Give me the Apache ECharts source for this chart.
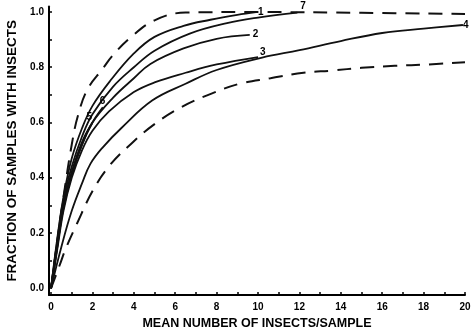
<!DOCTYPE html>
<html>
<head>
<meta charset="utf-8">
<script src="https://cdn.jsdelivr.net/npm/echarts@6/dist/echarts.min.js"></script>
<style>html,body{margin:0;padding:0;background:#fff}#c{width:472px;height:333px}</style>
</head>
<body>
<div id="c"></div>
<script>
// x = mean number of insects per sample, y = fraction of samples with insects
const upperDashed = [[0,0],[0.3,0.17],[0.6,0.33],[1.0,0.52],[1.3,0.625],[1.76,0.72],[2.5,0.795],[2.95,0.84],[3.8,0.905],[5.0,0.97],[6.5,0.998],[10,1.0],[15,0.997],[20,0.993]];
const lowerDashed = [[0,0],[0.4,0.08],[0.72,0.145],[1.26,0.235],[2.03,0.355],[2.85,0.446],[3.9,0.525],[5.0,0.594],[6.3,0.656],[7.6,0.70],[9.1,0.74],[10.6,0.76],[12.2,0.78],[13.6,0.788],[15,0.798],[16.6,0.805],[18.2,0.81],[20,0.818]];
const curve1 = [[0,0],[0.3,0.18],[0.6,0.33],[1.0,0.47],[1.5,0.58],[2.0,0.66],[2.85,0.75],[4.0,0.85],[5.0,0.91],[6.4,0.95],[7.7,0.972],[9.0,0.99],[9.9,1.0]];
const curve2 = [[0,0],[0.3,0.15],[0.6,0.3],[1.0,0.42],[1.5,0.52],[2.0,0.6],[3.0,0.69],[4.0,0.76],[4.8,0.812],[6.4,0.868],[8.0,0.903],[9.6,0.917]];
const curve3 = [[0,0],[0.3,0.14],[0.6,0.28],[1.0,0.4],[1.5,0.5],[2.0,0.57],[2.8,0.64],[4.0,0.71],[5.0,0.745],[6.5,0.78],[8.0,0.81],[10.0,0.837]];
const curve4 = [[0,0],[0.5,0.15],[1.0,0.28],[1.5,0.38],[1.9,0.45],[2.5,0.51],[3.4,0.58],[4.9,0.68],[6.5,0.74],[8.0,0.79],[10.2,0.835],[12,0.862],[14,0.895],[16,0.924],[18,0.94],[19.9,0.953]];
const curve5 = [[0,0],[0.3,0.16],[0.6,0.3],[1.0,0.42],[1.5,0.53],[2.0,0.6]];
const curve6 = [[0,0],[0.3,0.15],[0.6,0.29],[1.0,0.41],[1.5,0.52],[2.0,0.6],[2.5,0.655]];
const curve7 = [[0,0],[0.3,0.17],[0.6,0.32],[1.0,0.44],[1.5,0.55],[2.0,0.63],[3.0,0.73],[4.0,0.8],[5.0,0.86],[6.7,0.922],[8.5,0.96],[10,0.98],[11.9,0.998]];
const xTicks = [0,1,2,3,4,5,6,7,8,9,10,11,12,13,14,15,16,17,18,19,20];
const xLabels = [0,2,4,6,8,10,12,14,16,18,20];
const yTicks = [0,0.1,0.2,0.3,0.4,0.5,0.6,0.7,0.8,0.9,1.0];
const yLabels = [0,0.2,0.4,0.6,0.8,1.0];

const FONT = 'Liberation Sans';
const labelStyle = {color:'#000', fontFamily:FONT, fontWeight:'bold', fontSize:10};

function solid(name, data, offset){
  return {
    type:'line', name:name, data:data, smooth:0.4, showSymbol:false, symbol:'none',
    lineStyle:{color:'#111', width:1.8},
    endLabel:Object.assign({show:true, formatter:name, distance:2, offset:offset||[0,0]}, labelStyle),
    z:3
  };
}
function dashed(name, data){
  return {
    type:'line', name:name, data:data, smooth:0.4, showSymbol:false, symbol:'none',
    lineStyle:{color:'#111', width:2, type:[14,9]}, z:2
  };
}

const chart = echarts.init(document.getElementById('c'), null, {renderer:'canvas'});
chart.setOption({
  animation:false,
  backgroundColor:'#fff',
  grid:{left:49, right:7, top:6.5, bottom:38, containLabel:false, outerBoundsMode:'none'},
  xAxis:{
    type:'value', min:-0.1, max:20,
    name:'MEAN NUMBER OF INSECTS/SAMPLE', nameLocation:'middle', nameGap:22,
    nameTextStyle:{color:'#000', fontFamily:FONT, fontWeight:'bold', fontSize:12.5},
    axisLine:{show:true, onZero:false, lineStyle:{color:'#000', width:2}},
    axisTick:{show:true, inside:true, length:3, customValues:xTicks, lineStyle:{color:'#000', width:1.5}},
    axisLabel:Object.assign({customValues:xLabels, margin:7}, labelStyle),
    splitLine:{show:false}
  },
  yAxis:{
    type:'value', min:-0.025, max:1.02,
    name:'FRACTION OF SAMPLES WITH INSECTS', nameLocation:'middle', nameGap:30, nameRotate:90,
    nameTextStyle:{color:'#000', fontFamily:FONT, fontWeight:'bold', fontSize:13.5},
    axisLine:{show:true, onZero:false, lineStyle:{color:'#000', width:2}},
    axisTick:{show:true, inside:true, length:3, customValues:yTicks, lineStyle:{color:'#000', width:1.5}},
    axisLabel:Object.assign({customValues:yLabels, margin:5, formatter:function(v){return v.toFixed(1);}}, labelStyle),
    splitLine:{show:false}
  },
  series:[
    dashed('upper', upperDashed),
    dashed('lower', lowerDashed),
    solid('1', curve1, [0,0]),
    solid('2', curve2, [1,-1]),
    solid('3', curve3, [0,-5]),
    solid('4', curve4, [-2,0]),
    solid('5', curve5, [-8,-5]),
    solid('6', curve6, [-5,-6]),
    solid('7', curve7, [1,-6])
  ]
});
</script>
</body>
</html>
